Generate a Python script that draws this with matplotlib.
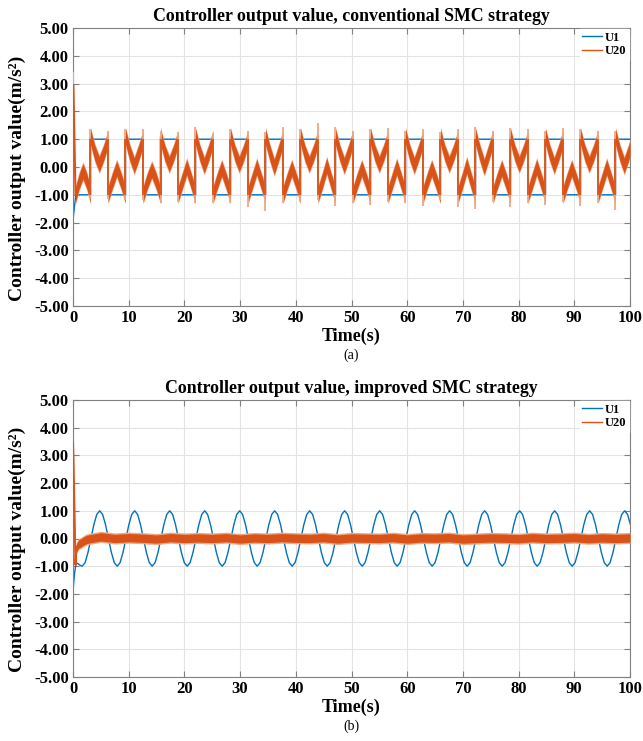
import numpy as np
import matplotlib
matplotlib.use('Agg')
import matplotlib.pyplot as plt
from matplotlib.lines import Line2D

BLUE = '#0072BD'
ORANGE = '#D95319'
ORANGE_LIGHT = '#EDA883'

# ---------------- panel (a): conventional SMC ----------------
# switching instants of U1 (square wave), seconds
switch_t = [3.14, 6.28, 9.42, 12.57, 15.71, 18.85, 21.99, 25.13, 28.27, 31.42,
            34.56, 37.70, 40.84, 43.98, 47.12, 50.27, 53.41, 56.55, 59.69, 62.83,
            65.97, 69.12, 72.26, 75.40, 78.54, 81.68, 84.82, 87.96, 91.11, 94.25, 97.39]
# U1 level in each half cycle (between switches)
u1a_levels = [-1, 1, -1, 1, -1, 1, -1, 1, -1, 1, -1, 1, -1, 1, -1, 1,
              -1, 1, -1, 1, -1, 1, -1, 1, -1, 1, -1, 1, -1, 1, -1, 1]
u1a_start_t = [0.0, 0.5]
u1a_start_v = [-1.9, -1.0]

# U20 (a): band centre values at 0, 1/4, 1/2, 3/4, 1 of each half cycle
u20a_plus_shape = [1.1, 0.5, 0.0, 0.5, 1.0]
u20a_minus_shape = [-1.0, -0.5, -0.05, -0.5, -1.0]
u20a_mid = [-0.15, 0.10, -0.05, 0.05, -0.10, 0.10, 0.00, 0.05, -0.05, 0.10,
            0.00, 0.00, -0.05, 0.10, 0.05, 0.05, -0.05, 0.10, 0.00, 0.05,
            -0.05, 0.10, 0.05, 0.00, -0.05, 0.10, 0.00, 0.05, -0.05, 0.10,
            0.00, 0.05]
# spikes at each switch (top / bottom of the thin transition line)
u20a_spike_hi = [1.35, 1.30, 1.35, 1.35, 1.30, 1.25, 1.45, 1.20, 1.35, 1.30,
                 1.25, 1.45, 1.35, 1.60, 1.45, 1.30, 1.35, 1.40, 1.30, 1.35,
                 1.25, 1.35, 1.45, 1.30, 1.40, 1.35, 1.30, 1.40, 1.35, 1.30, 1.30]
u20a_spike_lo = [-1.15, -1.15, -1.20, -1.20, -1.30, -1.25, -1.30, -1.30, -1.30, -1.45,
                 -1.60, -1.30, -1.25, -1.20, -1.40, -1.30, -1.35, -1.25, -1.30, -1.40,
                 -1.20, -1.45, -1.50, -1.25, -1.45, -1.30, -1.35, -1.25, -1.40, -1.30, -1.55]
u20a_init_t = [0.0, 0.08, 0.45]
u20a_init_v = [3.0, 2.9, -1.0]
u20a_init_peak = 3.4
u20a_halfwidth = 0.27

# ---------------- panel (b): improved SMC ----------------
u1b_intro_t = [0.0, 0.25, 0.55, 1.0, 1.35]
u1b_intro_v = [-1.9, -1.3, -0.88, -0.92, -0.98]
u1b_wave_start = 1.65
u1b_wave_step = 0.5236
u1b_wave_v = [
    -1.0, -0.87, -0.5, 0.0, 0.5, 0.87, 1.0, 0.87, 0.5, 0.0, -0.5, -0.87,
    -1.0, -0.87, -0.5, 0.0, 0.5, 0.87, 1.0, 0.87, 0.5, 0.0, -0.5, -0.87,
    -1.0, -0.87, -0.5, 0.0, 0.5, 0.87, 1.0, 0.87, 0.5, 0.0, -0.5, -0.87,
    -1.0, -0.87, -0.5, 0.0, 0.5, 0.87, 1.0, 0.87, 0.5, 0.0, -0.5, -0.87,
    -1.0, -0.87, -0.5, 0.0, 0.5, 0.87, 1.0, 0.87, 0.5, 0.0, -0.5, -0.87,
    -1.0, -0.87, -0.5, 0.0, 0.5, 0.87, 1.0, 0.87, 0.5, 0.0, -0.5, -0.87,
    -1.0, -0.87, -0.5, 0.0, 0.5, 0.87, 1.0, 0.87, 0.5, 0.0, -0.5, -0.87,
    -1.0, -0.87, -0.5, 0.0, 0.5, 0.87, 1.0, 0.87, 0.5, 0.0, -0.5, -0.87,
    -1.0, -0.87, -0.5, 0.0, 0.5, 0.87, 1.0, 0.87, 0.5, 0.0, -0.5, -0.87,
    -1.0, -0.87, -0.5, 0.0, 0.5, 0.87, 1.0, 0.87, 0.5, 0.0, -0.5, -0.87,
    -1.0, -0.87, -0.5, 0.0, 0.5, 0.87, 1.0, 0.87, 0.5, 0.0, -0.5, -0.87,
    -1.0, -0.87, -0.5, 0.0, 0.5, 0.87, 1.0, 0.87, 0.5, 0.0, -0.5, -0.87,
    -1.0, -0.87, -0.5, 0.0, 0.5, 0.87, 1.0, 0.87, 0.5, 0.0, -0.5, -0.87,
    -1.0, -0.87, -0.5, 0.0, 0.5, 0.87, 1.0, 0.87, 0.5, 0.0, -0.5, -0.87,
    -1.0, -0.87, -0.5, 0.0, 0.5, 0.87, 1.0, 0.87, 0.5, 0.0, -0.5, -0.87,
    -1.0, -0.87, -0.5, 0.0, 0.5, 0.87, 1.0, 0.87, 0.5, 0.0, -0.5, -0.87,
    -1.0]
u20b_intro_t = [0.0, 0.08, 0.45, 0.6, 1.0, 1.5, 2.0]
u20b_intro_v = [3.45, 2.9, -0.95, -0.35, -0.2, -0.15, -0.08]
u20b_band_t = [2.5, 5.0, 7.5, 10.0, 12.5, 15.0, 17.5, 20.0, 22.5, 25.0,
               27.5, 30.0, 32.5, 35.0, 37.5, 40.0, 42.5, 45.0, 47.5, 50.0,
               52.5, 55.0, 57.5, 60.0, 62.5, 65.0, 67.5, 70.0, 72.5, 75.0,
               77.5, 80.0, 82.5, 85.0, 87.5, 90.0, 92.5, 95.0, 97.5, 100.0]
u20b_band_v = [-0.03, 0.06, 0.00, 0.03, 0.01, -0.02, 0.03, 0.00, 0.02, 0.00,
               0.03, -0.02, 0.02, 0.00, 0.03, 0.01, 0.00, 0.03, -0.02, 0.02,
               0.01, 0.00, 0.03, -0.02, 0.02, 0.01, 0.03, -0.02, 0.00, 0.02,
               0.01, -0.01, 0.03, 0.00, 0.01, 0.03, -0.01, 0.02, 0.00, 0.02]
u20b_halfwidth = 0.15

yticks = [-5, -4, -3, -2, -1, 0, 1, 2, 3, 4, 5]
xticks = [0, 10, 20, 30, 40, 50, 60, 70, 80, 90, 100]

# ---------------- build curves ----------------
bounds = [0.0] + switch_t + [100.0]

# U1 (a) polyline
u1a_t = list(u1a_start_t)
u1a_v = list(u1a_start_v)
for i, lev in enumerate(u1a_levels):
    a, b = bounds[i], bounds[i + 1]
    if i > 0:
        u1a_t.append(a); u1a_v.append(lev)
    u1a_t.append(b); u1a_v.append(lev)

# U20 (a) band centre
fr = [0.0, 0.25, 0.5, 0.75, 1.0]
c_t, c_v = [], []
for i, lev in enumerate(u1a_levels):
    a, b = bounds[i], bounds[i + 1]
    full = np.pi
    shape = list(u20a_plus_shape if lev > 0 else u20a_minus_shape)
    shape[2] = u20a_mid[i]
    if i == 0:
        start = u20a_init_t[-1]
        full = b - start
    else:
        start = a
    for f, v in zip(fr, shape):
        t = start + f * full
        if t > 100.0:
            prev_t, prev_v = c_t[-1], c_v[-1]
            frac = (100.0 - prev_t) / (t - prev_t)
            c_t.append(100.0); c_v.append(prev_v + frac * (v - prev_v))
            break
        c_t.append(t); c_v.append(v)
c_t = np.array(c_t); c_v = np.array(c_v)

# U1 (b)
u1b_t = list(u1b_intro_t) + [u1b_wave_start + k * u1b_wave_step for k in range(len(u1b_wave_v))]
u1b_v = list(u1b_intro_v) + list(u1b_wave_v)

# ---------------- figure ----------------
plt.rcParams['font.family'] = ['Liberation Serif', 'DejaVu Serif']
fig = plt.figure(figsize=(6.43, 7.41), dpi=100)
ax1 = fig.add_axes([73 / 643, 1 - 306 / 741, 557 / 643, 278 / 741])
ax2 = fig.add_axes([73 / 643, 1 - 677 / 741, 557 / 643, 277 / 741])


def style(ax, title, tag):
    ax.set_xlim(0, 100)
    ax.set_ylim(-5, 5)
    ax.set_xticks(xticks)
    ax.set_yticks(yticks)
    ax.set_xticklabels([str(x) for x in xticks], fontsize=12, fontweight='bold')
    ax.set_yticklabels(['%.2f' % y for y in yticks], fontsize=12, fontweight='bold')
    ax.grid(True, color='#e3e3e3', linewidth=0.8)
    ax.set_axisbelow(True)
    ax.tick_params(direction='in', length=4, width=0.8, color='#808080',
                   top=True, right=True, pad=3)
    ax.tick_params(axis='x', pad=3)
    for s in ax.spines.values():
        s.set_color('#808080')
        s.set_linewidth(0.8)
    ax.set_title(title, fontsize=12.9, fontweight='bold', pad=5)
    ax.set_xlabel('Time(s)', fontsize=13, fontweight='bold')
    ax.xaxis.set_label_coords(0.5, -0.077)
    ax.xaxis.label.set_va('top')
    ax.set_ylabel('Controller output value(m/s²)', fontsize=14, fontweight='bold', labelpad=1)
    ax.yaxis.set_label_coords(-0.085, 0.46)
    ax.text(0.5, -0.178, tag, transform=ax.transAxes, ha='center', va='center', fontsize=10)
    handles = [Line2D([0], [0], color=BLUE, lw=1.0), Line2D([0], [0], color=ORANGE, lw=1.0)]
    leg = ax.legend(handles, ['U1', 'U20'], loc='upper right', borderaxespad=0.1,
                    handlelength=1.6, handletextpad=0.2, labelspacing=0.1,
                    borderpad=0.2, frameon=True, fancybox=False,
                    prop={'weight': 'bold', 'size': 9})
    leg.get_frame().set_edgecolor('white')
    leg.get_frame().set_facecolor('white')
    leg.get_frame().set_alpha(1.0)


# panel (a)
ax1.plot(u1a_t, u1a_v, color=BLUE, lw=1.0, zorder=2)
ax1.fill_between(c_t, c_v - u20a_halfwidth - 0.07, c_v + u20a_halfwidth + 0.07,
                 color=ORANGE_LIGHT, lw=0, zorder=3)
ax1.fill_between(c_t, c_v - u20a_halfwidth, c_v + u20a_halfwidth,
                 color=ORANGE, lw=0, zorder=4)
ax1.plot(c_t, c_v, color=ORANGE, lw=1.0, zorder=4)
ax1.vlines(switch_t, u20a_spike_lo, u20a_spike_hi, color=ORANGE_LIGHT, lw=1.3, zorder=4)
ax1.vlines(switch_t, [-1.0] * len(switch_t), [1.0] * len(switch_t), color=ORANGE, lw=1.3, zorder=5)
ax1.plot(u20a_init_t, u20a_init_v, color=ORANGE, lw=1.5, zorder=5)
ax1.vlines([0.0], [u20a_init_v[0]], [u20a_init_peak], color=ORANGE_LIGHT, lw=1.5, zorder=5)
style(ax1, 'Controller output value, conventional SMC strategy', '(a)')

# panel (b)
ax2.plot(u1b_t, u1b_v, color=BLUE, lw=1.0, zorder=2)
bt = np.array(u20b_intro_t[3:] + u20b_band_t)
bv = np.array(u20b_intro_v[3:] + u20b_band_v)
ax2.fill_between(bt, bv - u20b_halfwidth - 0.05, bv + u20b_halfwidth + 0.05,
                 color=ORANGE_LIGHT, lw=0, zorder=3)
ax2.fill_between(bt, bv - u20b_halfwidth, bv + u20b_halfwidth,
                 color=ORANGE, lw=0, zorder=4)
ax2.plot(u20b_intro_t, u20b_intro_v, color=ORANGE, lw=1.5, zorder=5)
style(ax2, 'Controller output value, improved SMC strategy', '(b)')

fig.savefig('out.png', dpi=100)
